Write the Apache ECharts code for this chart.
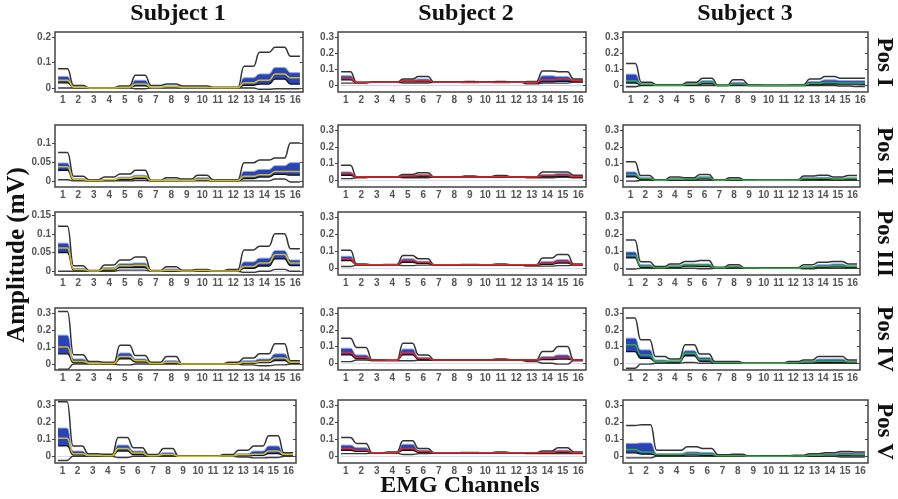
<!DOCTYPE html>
<html>
<head>
<meta charset="utf-8">
<script src="https://cdn.jsdelivr.net/npm/echarts@6/dist/echarts.min.js"></script>
<style>
  html, body { margin: 0; padding: 0; background: #fff; }
  #emg-chart { width: 898px; height: 499px; }
</style>
</head>
<body>
<div id="emg-chart"></div>
<script>
const channels = [1, 2, 3, 4, 5, 6, 7, 8, 9, 10, 11, 12, 13, 14, 15, 16];
const subjects = ["Subject 1", "Subject 2", "Subject 3"];
const positions = ["Pos I", "Pos II", "Pos III", "Pos IV", "Pos V"];

// y tick labels
const yTicksS1 = [[0, 0.1, 0.2], [0, 0.05, 0.1], [0, 0.05, 0.1, 0.15], [0, 0.1, 0.2, 0.3], [0, 0.1, 0.2, 0.3]];
const yTicksS23 = [0, 0.1, 0.2, 0.3];
const yRangeS1 = [[-0.016, 0.22], [-0.016, 0.147], [-0.01, 0.158], [-0.035, 0.33], [-0.04, 0.33]];
const yRangeS23 = [-0.04, 0.33];

/* subject 1 */
const s1PosI = {
  max: [0.075, 0.01, 0.001, 0.001, 0.008, 0.05, 0.01, 0.015, 0.008, 0.008, 0.003, 0.003, 0.085, 0.14, 0.16, 0.125],
  q3:  [0.045, 0.005, 0.001, 0.001, 0.003, 0.03, 0.003, 0.008, 0.003, 0.003, 0.001, 0.001, 0.04, 0.055, 0.08, 0.06],
  med: [0.03, 0.003, 0, 0, 0.002, 0.015, 0.002, 0.005, 0.002, 0.002, 0.001, 0.001, 0.02, 0.03, 0.055, 0.04],
  q1:  [0.02, 0.001, 0, 0, 0.001, 0.008, 0.001, 0.002, 0.001, 0.001, 0, 0, 0.01, 0.015, 0.035, 0.015],
  min: [0, 0, 0, 0, 0, -0.003, 0, 0, 0, 0, 0, 0, 0, -0.005, -0.003, -0.003]
};
const s1PosII = {
  max: [0.075, 0.012, 0.003, 0.01, 0.018, 0.028, 0.002, 0.008, 0.005, 0.015, 0.003, 0.003, 0.048, 0.055, 0.06, 0.1],
  q3:  [0.047, 0.006, 0.001, 0.004, 0.01, 0.015, 0.001, 0.004, 0.002, 0.008, 0.001, 0.001, 0.025, 0.03, 0.04, 0.048],
  med: [0.037, 0.004, 0.001, 0.003, 0.007, 0.011, 0.001, 0.002, 0.001, 0.004, 0.001, 0.001, 0.012, 0.016, 0.025, 0.025],
  q1:  [0.028, 0.002, 0, 0.001, 0.003, 0.006, 0, 0.001, 0.001, 0.002, 0, 0, 0.006, 0.01, 0.017, 0.015],
  min: [0.003, 0, 0, 0, 0, 0.001, 0, 0, 0, 0, 0, 0, 0, 0, 0.005, -0.003]
};
const s1PosIII = {
  max: [0.12, 0.015, 0.002, 0.017, 0.03, 0.038, 0.002, 0.012, 0.003, 0.005, 0.001, 0.005, 0.057, 0.067, 0.1, 0.06],
  q3:  [0.075, 0.008, 0.001, 0.01, 0.02, 0.022, 0.001, 0.006, 0.002, 0.003, 0.001, 0.002, 0.025, 0.035, 0.055, 0.03],
  med: [0.062, 0.005, 0.001, 0.006, 0.015, 0.016, 0.001, 0.003, 0.001, 0.002, 0.001, 0.001, 0.013, 0.022, 0.045, 0.022],
  q1:  [0.05, 0.003, 0, 0.003, 0.01, 0.01, 0, 0.002, 0.001, 0.001, 0, 0, 0.008, 0.014, 0.033, 0.015],
  min: [0, 0, 0, 0, 0.003, 0.003, 0, 0, 0, 0, 0, 0, -0.003, 0, 0.005, 0]
};
const s1PosIV = {
  max: [0.31, 0.055, 0.015, 0.01, 0.11, 0.05, 0.01, 0.045, 0, 0, 0, 0.01, 0.035, 0.06, 0.12, 0.02],
  q3:  [0.17, 0.03, 0.008, 0.005, 0.065, 0.03, 0.005, 0.02, 0, 0, 0, 0.005, 0.02, 0.03, 0.06, 0.015],
  med: [0.1, 0.015, 0.004, 0.003, 0.045, 0.02, 0.003, 0.01, 0, 0, 0, 0.002, 0.01, 0.015, 0.035, 0.01],
  q1:  [0.06, 0.008, 0.002, 0.001, 0.03, 0.012, 0.001, 0.005, 0, 0, 0, 0.001, 0.005, 0.008, 0.02, 0.005],
  min: [-0.03, 0, 0, 0, -0.005, 0, 0, 0, 0, 0, 0, 0, -0.005, -0.01, -0.005, 0]
};
const s1PosV = {
  max: [0.32, 0.06, 0.015, 0.012, 0.11, 0.05, 0.01, 0.045, 0, 0, 0, 0.01, 0.035, 0.06, 0.12, 0.02],
  q3:  [0.165, 0.03, 0.008, 0.005, 0.065, 0.03, 0.005, 0.02, 0, 0, 0, 0.003, 0.015, 0.03, 0.06, 0.015],
  med: [0.105, 0.015, 0.004, 0.003, 0.045, 0.018, 0.003, 0.01, 0, 0, 0, 0.001, 0.008, 0.012, 0.03, 0.01],
  q1:  [0.06, 0.008, 0.002, 0.001, 0.03, 0.01, 0.001, 0.005, 0, 0, 0, 0, 0.003, 0.005, 0.015, 0.005],
  min: [-0.025, 0, 0, 0, -0.008, 0, 0, 0, 0, 0, 0, 0, -0.005, -0.01, -0.008, 0]
};

/* subject 2 */
const s2PosI = {
  max: [0.085, 0.02, 0.02, 0.02, 0.04, 0.055, 0.02, 0.02, 0.025, 0.02, 0.025, 0.02, 0.025, 0.09, 0.085, 0.04],
  q3:  [0.06, 0.02, 0.02, 0.02, 0.035, 0.04, 0.02, 0.02, 0.022, 0.02, 0.022, 0.02, 0.02, 0.06, 0.055, 0.035],
  med: [0.045, 0.02, 0.02, 0.02, 0.028, 0.03, 0.02, 0.02, 0.02, 0.02, 0.02, 0.02, 0.02, 0.035, 0.04, 0.03],
  q1:  [0.035, 0.018, 0.02, 0.02, 0.022, 0.022, 0.02, 0.02, 0.02, 0.02, 0.02, 0.02, 0.018, 0.022, 0.025, 0.025],
  min: [0.015, 0.015, 0.02, 0.02, 0.015, 0.015, 0.02, 0.02, 0.018, 0.02, 0.018, 0.02, 0.01, 0.015, 0.015, 0.02]
};
const s2PosII = {
  max: [0.09, 0.02, 0.02, 0.02, 0.035, 0.045, 0.02, 0.02, 0.025, 0.02, 0.028, 0.02, 0.02, 0.05, 0.05, 0.03],
  q3:  [0.05, 0.02, 0.02, 0.02, 0.03, 0.035, 0.02, 0.02, 0.022, 0.02, 0.024, 0.02, 0.02, 0.035, 0.04, 0.025],
  med: [0.04, 0.02, 0.02, 0.02, 0.025, 0.028, 0.02, 0.02, 0.02, 0.02, 0.021, 0.02, 0.02, 0.028, 0.03, 0.022],
  q1:  [0.03, 0.018, 0.02, 0.02, 0.02, 0.022, 0.02, 0.02, 0.02, 0.02, 0.02, 0.02, 0.018, 0.022, 0.024, 0.02],
  min: [0.01, 0.015, 0.02, 0.02, 0.015, 0.015, 0.02, 0.02, 0.018, 0.02, 0.018, 0.02, 0.015, 0.015, 0.018, 0.015]
};
const s2PosIII = {
  max: [0.105, 0.025, 0.02, 0.022, 0.075, 0.055, 0.02, 0.02, 0.022, 0.02, 0.025, 0.02, 0.02, 0.06, 0.08, 0.025],
  q3:  [0.07, 0.022, 0.02, 0.02, 0.055, 0.04, 0.02, 0.02, 0.021, 0.02, 0.022, 0.02, 0.02, 0.04, 0.05, 0.022],
  med: [0.055, 0.02, 0.02, 0.02, 0.045, 0.035, 0.02, 0.02, 0.02, 0.02, 0.02, 0.02, 0.02, 0.03, 0.04, 0.02],
  q1:  [0.045, 0.019, 0.02, 0.02, 0.035, 0.028, 0.02, 0.02, 0.02, 0.02, 0.02, 0.02, 0.018, 0.022, 0.03, 0.02],
  min: [0.01, 0.018, 0.02, 0.02, 0.015, 0.018, 0.02, 0.02, 0.018, 0.02, 0.018, 0.018, 0.012, 0.012, 0.015, 0.018]
};
const s2PosIV = {
  max: [0.15, 0.095, 0.02, 0.018, 0.12, 0.05, 0.02, 0.02, 0.02, 0.02, 0.025, 0.02, 0.02, 0.07, 0.1, 0.02],
  q3:  [0.09, 0.05, 0.02, 0.018, 0.085, 0.035, 0.02, 0.02, 0.02, 0.02, 0.022, 0.02, 0.02, 0.04, 0.05, 0.02],
  med: [0.065, 0.035, 0.02, 0.018, 0.065, 0.028, 0.02, 0.02, 0.02, 0.02, 0.02, 0.02, 0.02, 0.03, 0.035, 0.02],
  q1:  [0.05, 0.028, 0.02, 0.018, 0.05, 0.022, 0.02, 0.02, 0.02, 0.02, 0.02, 0.02, 0.018, 0.022, 0.025, 0.02],
  min: [0.01, 0.02, 0.015, 0.015, 0.015, 0.018, 0.018, 0.018, 0.018, 0.018, 0.018, 0.018, 0.01, 0, -0.005, 0.015]
};
const s2PosV = {
  max: [0.11, 0.075, 0.02, 0.025, 0.09, 0.045, 0.02, 0.02, 0.022, 0.02, 0.025, 0.02, 0.02, 0.03, 0.05, 0.025],
  q3:  [0.065, 0.05, 0.02, 0.022, 0.07, 0.035, 0.02, 0.02, 0.021, 0.02, 0.022, 0.02, 0.02, 0.025, 0.035, 0.022],
  med: [0.045, 0.035, 0.02, 0.02, 0.045, 0.028, 0.02, 0.02, 0.02, 0.02, 0.02, 0.02, 0.02, 0.022, 0.028, 0.02],
  q1:  [0.035, 0.028, 0.02, 0.02, 0.035, 0.022, 0.02, 0.02, 0.02, 0.02, 0.02, 0.02, 0.018, 0.02, 0.022, 0.02],
  min: [0.015, 0.015, 0.018, 0.018, 0.01, 0.015, 0.018, 0.018, 0.018, 0.018, 0.018, 0.018, 0.015, 0.015, 0.015, 0.015]
};

/* subject 3 */
const s3PosI = {
  max: [0.135, 0.02, 0.005, 0.005, 0.02, 0.045, 0.001, 0.035, 0.005, 0.001, 0.001, 0.005, 0.04, 0.055, 0.045, 0.045],
  q3:  [0.07, 0.012, 0.003, 0.003, 0.012, 0.03, 0, 0.02, 0.002, 0, 0, 0.002, 0.025, 0.035, 0.03, 0.03],
  med: [0.03, 0.008, 0.002, 0.002, 0.008, 0.02, 0, 0.01, 0.001, 0, 0, 0.001, 0.012, 0.018, 0.015, 0.015],
  q1:  [0.015, 0.004, 0.001, 0.001, 0.004, 0.01, 0, 0.005, 0, 0, 0, 0, 0.006, 0.008, 0.008, 0.008],
  min: [-0.008, 0, 0, 0, 0, 0, 0, 0, 0, 0, 0, 0, 0, 0, -0.003, -0.006]
};
const s3PosII = {
  max: [0.11, 0.028, 0.002, 0.02, 0.015, 0.035, 0.002, 0.015, 0.003, 0, 0, 0.002, 0.025, 0.03, 0.02, 0.028],
  q3:  [0.05, 0.015, 0.001, 0.01, 0.01, 0.022, 0.001, 0.008, 0.001, 0, 0, 0.001, 0.015, 0.018, 0.012, 0.015],
  med: [0.035, 0.01, 0.001, 0.006, 0.007, 0.015, 0.001, 0.005, 0.001, 0, 0, 0.001, 0.01, 0.012, 0.008, 0.01],
  q1:  [0.02, 0.005, 0, 0.003, 0.004, 0.008, 0, 0.002, 0, 0, 0, 0, 0.005, 0.006, 0.004, 0.005],
  min: [-0.005, 0, 0, 0, 0, 0, 0, 0, 0, 0, 0, 0, 0, 0, 0, 0]
};
const s3PosIII = {
  max: [0.165, 0.038, 0.01, 0.025, 0.04, 0.045, 0.005, 0.02, 0.002, 0.001, 0.001, 0.002, 0.02, 0.035, 0.04, 0.025],
  q3:  [0.095, 0.02, 0.005, 0.015, 0.025, 0.025, 0.003, 0.012, 0.001, 0, 0, 0.001, 0.01, 0.02, 0.025, 0.015],
  med: [0.075, 0.012, 0.003, 0.01, 0.02, 0.018, 0.002, 0.008, 0.001, 0, 0, 0, 0.006, 0.012, 0.015, 0.01],
  q1:  [0.06, 0.005, 0.002, 0.005, 0.012, 0.01, 0.001, 0.004, 0, 0, 0, 0, 0.003, 0.006, 0.008, 0.005],
  min: [-0.005, 0, 0, 0, 0, -0.003, 0, 0, 0, 0, 0, 0, -0.003, 0, 0, 0]
};
const s3PosIV = {
  max: [0.27, 0.14, 0.04, 0.025, 0.11, 0.055, 0.01, 0.01, 0, 0, 0, 0.01, 0.02, 0.04, 0.04, 0.02],
  q3:  [0.15, 0.08, 0.02, 0.015, 0.075, 0.035, 0.005, 0.005, 0, 0, 0, 0.005, 0.012, 0.025, 0.025, 0.012],
  med: [0.11, 0.05, 0.012, 0.01, 0.06, 0.022, 0.003, 0.003, 0, 0, 0, 0.003, 0.008, 0.012, 0.012, 0.008],
  q1:  [0.07, 0.03, 0.008, 0.005, 0.045, 0.012, 0.001, 0.001, 0, 0, 0, 0.001, 0.004, 0.006, 0.006, 0.004],
  min: [-0.03, -0.005, 0, 0, 0.005, 0, 0, 0, 0, 0, 0, 0, 0, 0, 0, 0]
};
const s3PosV = {
  max: [0.18, 0.185, 0.035, 0.035, 0.055, 0.045, 0.008, 0.012, 0, 0.002, 0.002, 0.005, 0.015, 0.02, 0.028, 0.025],
  q3:  [0.075, 0.078, 0.015, 0.015, 0.025, 0.022, 0.004, 0.006, 0, 0.001, 0.001, 0.003, 0.01, 0.014, 0.02, 0.018],
  med: [0.04, 0.025, 0.01, 0.01, 0.015, 0.012, 0.002, 0.003, 0, 0, 0, 0.001, 0.005, 0.007, 0.01, 0.008],
  q1:  [0.02, 0.012, 0.005, 0.005, 0.008, 0.005, 0.001, 0.001, 0, 0, 0, 0, 0.002, 0.003, 0.004, 0.003],
  min: [-0.01, -0.01, 0, 0, 0, 0, 0, 0, 0, 0, 0, 0, 0, 0, -0.005, -0.005]
};

const panels = [
  [s1PosI, s2PosI, s3PosI],
  [s1PosII, s2PosII, s3PosII],
  [s1PosIII, s2PosIII, s3PosIII],
  [s1PosIV, s2PosIV, s3PosIV],
  [s1PosV, s2PosV, s3PosV]
];

/* layout */
const rowTop = [32, 125, 212, 308, 400];
const rowHeight = [60, 62, 63, 62, 63];
const colLeft = [55, 338, 623];
const colWidth = [
  [248, 248, 245],
  [248, 248, 237],
  [248, 248, 237],
  [248, 248, 237],
  [241, 248, 245]
];
const medianColor = ["#d2bf1c", "#e3262b", "#35a84a"];

function steps(vals) {
  const pts = [];
  vals.forEach((v, i) => {
    pts.push([channels[i] - 0.3, v]);
    pts.push([channels[i] + 0.3, v]);
  });
  return pts;
}

const labelFont = {
  fontFamily: "Liberation Sans",
  fontWeight: "bold",
  fontSize: 10,
  color: "#555"
};

const grid = [], xAxis = [], yAxis = [], series = [];
let gi = 0;
panels.forEach((row, r) => {
  row.forEach((p, c) => {
    const range = c === 0 ? yRangeS1[r] : yRangeS23;
    const ticks = c === 0 ? yTicksS1[r] : yTicksS23;
    grid.push({
      left: colLeft[c], top: rowTop[r], width: colWidth[r][c], height: rowHeight[r],
      show: true, borderColor: "#444", borderWidth: 1.5, backgroundColor: "#fff"
    });
    xAxis.push({
      type: "value", gridIndex: gi, min: 0.5, max: 16.5,
      splitLine: { show: false },
      axisLine: { show: false },
      axisTick: { show: false },
      axisLabel: Object.assign({ customValues: channels, margin: 3 }, labelFont)
    });
    yAxis.push({
      type: "value", gridIndex: gi, min: range[0], max: range[1],
      splitLine: { show: false },
      axisLine: { show: false },
      axisTick: { show: true, length: 3, customValues: ticks, lineStyle: { color: "#444" } },
      axisLabel: Object.assign({ customValues: ticks, margin: 4 }, labelFont)
    });
    yAxis.push({
      type: "value", gridIndex: gi, position: "right", min: range[0], max: range[1],
      splitLine: { show: false },
      axisLine: { show: false },
      axisTick: { show: true, inside: true, length: 3, customValues: ticks, lineStyle: { color: "#444" } },
      axisLabel: { show: false }
    });
    const common = {
      type: "line", xAxisIndex: gi, yAxisIndex: gi * 2,
      showSymbol: false, symbol: "none", smooth: 0.5, smoothMonotone: "x",
      silent: true, animation: false
    };
    // blue interquartile band: q3 filled blue, q1 masks it in white down to zero
    series.push(Object.assign({}, common, {
      name: "q3", data: steps(p.q3), z: 1,
      lineStyle: { color: "#8aa4e6", width: 1 },
      areaStyle: { color: "#2b43b5", opacity: 1, origin: 0 }
    }));
    series.push(Object.assign({}, common, {
      name: "q1mask", data: steps(p.q1), z: 2,
      lineStyle: { width: 0 },
      areaStyle: { color: "#fff", opacity: 1, origin: 0 }
    }));
    series.push(Object.assign({}, common, {
      name: "q1", data: steps(p.q1), z: 4,
      lineStyle: { color: "#111", width: 1.3 }
    }));
    series.push(Object.assign({}, common, {
      name: "max", data: steps(p.max), z: 3,
      lineStyle: { color: "#333", width: 1.5 }
    }));
    series.push(Object.assign({}, common, {
      name: "min", data: steps(p.min), z: 3,
      lineStyle: { color: "#3a3a3a", width: 1.4 }
    }));
    series.push(Object.assign({}, common, {
      name: "median", data: steps(p.med), z: 5,
      lineStyle: { color: medianColor[c], width: 1.5 }
    }));
    gi++;
  });
});

const serif = '"Liberation Serif", "Times New Roman", serif';
const graphic = [];
const titleX = [178, 466, 745];
subjects.forEach((s, c) => {
  graphic.push({
    type: "text", x: titleX[c], y: 14,
    style: { text: s, font: "bold 24px " + serif, fill: "#111", align: "center", verticalAlign: "middle" }
  });
});
positions.forEach((s, r) => {
  graphic.push({
    type: "text", x: 884, y: rowTop[r] + rowHeight[r] / 2, rotation: -Math.PI / 2,
    style: { text: s, font: "bold 23px " + serif, fill: "#111", align: "center", verticalAlign: "middle" }
  });
});
graphic.push({
  type: "text", x: 18, y: 255, rotation: Math.PI / 2,
  style: { text: "Amplitude (mV)", font: "bold 25px " + serif, fill: "#111", align: "center", verticalAlign: "middle" }
});
graphic.push({
  type: "text", x: 460, y: 486,
  style: { text: "EMG Channels", font: "bold 24px " + serif, fill: "#111", align: "center", verticalAlign: "middle" }
});

const chart = echarts.init(document.getElementById("emg-chart"), null, { renderer: "canvas" });
chart.setOption({
  animation: false,
  backgroundColor: "#fff",
  grid: grid,
  xAxis: xAxis,
  yAxis: yAxis,
  series: series,
  graphic: graphic
});
</script>
</body>
</html>
